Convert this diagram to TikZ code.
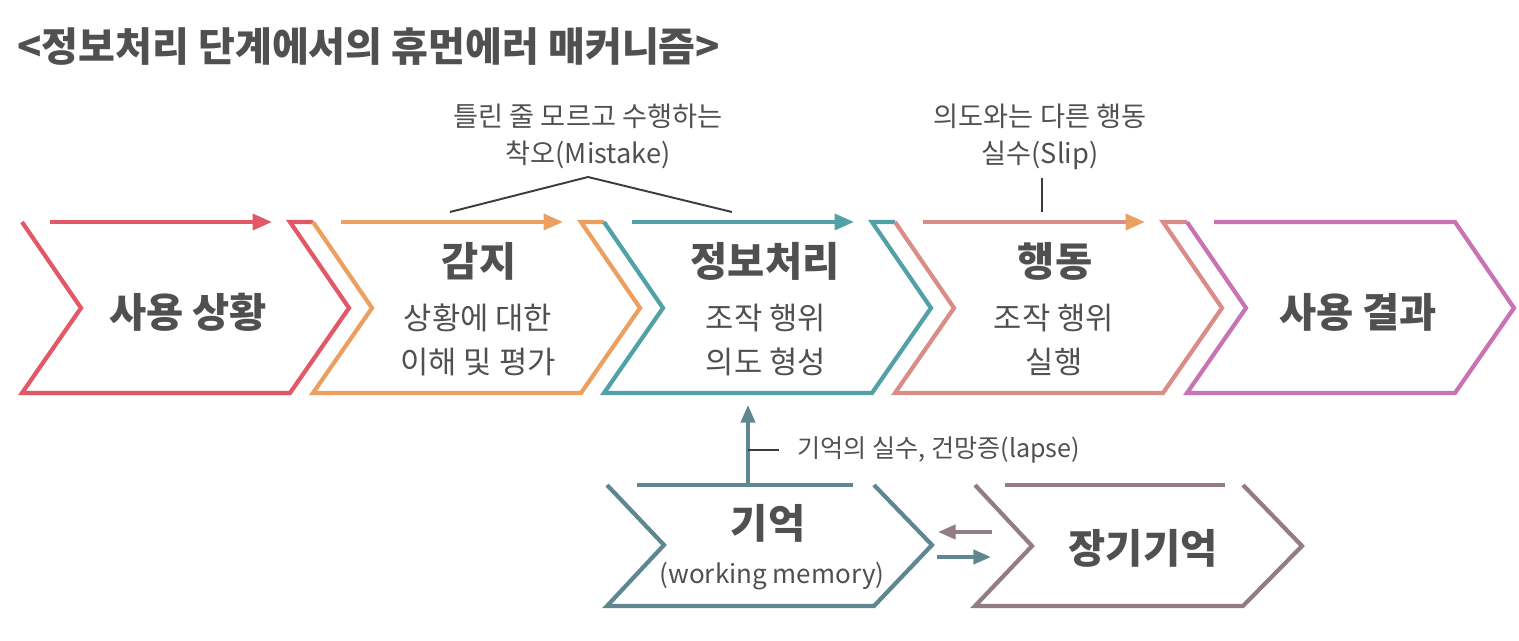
\documentclass[tikz,border=0pt]{standalone}
\usepackage{fontspec}
\setmainfont{Noto Sans CJK KR}
\usepackage{tikz}
\usetikzlibrary{arrows.meta, positioning}
\definecolor{cred}{RGB}{226,88,102}
\definecolor{corange}{RGB}{236,160,95}
\definecolor{cteal}{RGB}{82,160,168}
\definecolor{crose}{RGB}{218,140,135}
\definecolor{cpurple}{RGB}{200,115,180}
\definecolor{cmem}{RGB}{95,135,145}
\definecolor{clong}{RGB}{145,125,130}
\definecolor{ctext}{RGB}{80,80,80}
\definecolor{cline}{RGB}{60,60,60}
\tikzset{
  chev/.style={line width=2.4pt, line join=miter},
  toparrow/.style={line width=2.2pt, -{Triangle[length=11pt, width=9pt]}},
  memarrow/.style={line width=2.2pt, -{Triangle[length=10pt, width=8pt]}},
  titlelabel/.style={font=\fontsize{22.8}{26}\selectfont\bfseries, text=ctext, inner sep=0pt},
  headlabel/.style={font=\fontsize{23}{26}\selectfont\bfseries, text=ctext, inner sep=0pt},
  sublabel/.style={font=\fontsize{17.5}{25}\selectfont, text=ctext, align=center, inner sep=0pt},
  notelabel/.style={font=\fontsize{15.5}{21}\selectfont, text=ctext, align=center, inner sep=0pt},
  noteline/.style={line width=1.1pt, color=cline}
}
\begin{document}
\begin{tikzpicture}[x=0.02cm, y=-0.02cm]
  \useasboundingbox (0,0) rectangle (1519,641);

  % title
  \node[titlelabel, anchor=west] (title) at (17,47) {<정보처리 단계에서의 휴먼에러 매커니즘>};

  % process chevrons
  \draw[chev, cred] (22,222) -- (81,308) -- (22,393) -- (290,393) -- (349,308) -- (290,222) -- (313,222);
  \draw[toparrow, cred] (50,222) -- (272,222);
  \draw[chev, corange] (313,222) -- (372,308) -- (313,393) -- (581,393) -- (640,308) -- (581,222) -- (604,222);
  \draw[toparrow, corange] (341,222) -- (563,222);
  \draw[chev, cteal] (604,222) -- (663,308) -- (604,393) -- (872,393) -- (931,308) -- (872,222) -- (895,222);
  \draw[toparrow, cteal] (632,222) -- (854,222);
  \draw[chev, crose] (895,222) -- (954,308) -- (895,393) -- (1163,393) -- (1222,308) -- (1163,222) -- (1187,222);
  \draw[line width=2.2pt, crose, -{Triangle[length=11pt, width=9pt, color=corange]}] (923,222) -- (1145,222);
  \draw[chev, cpurple] (1187,222) -- (1246,308) -- (1187,393) -- (1455,393) -- (1514,308) -- (1455,222) -- (1214,222);

  \node[headlabel] (situ) at (188,312) {사용 상황};
  \node[headlabel] (sense) at (479,261) {감지};
  \node[sublabel] (sensetxt) at (478,340) {상황에 대한\\이해 및 평가};
  \node[headlabel] (info) at (765,261) {정보처리};
  \node[sublabel] (infotxt) at (766,340) {조작 행위\\의도 형성};
  \node[headlabel] (act) at (1055,261) {행동};
  \node[sublabel] (acttxt) at (1054,340) {조작 행위\\실행};
  \node[headlabel] (result) at (1358,312) {사용 결과};

  % error notes
  \node[notelabel] (mistake) at (588,136) {틀린 줄 모르고 수행하는\\착오(Mistake)};
  \coordinate (mkL) at (450,212);
  \coordinate (mkT) at (588,177);
  \coordinate (mkR) at (732,212);
  \draw[noteline] (mkL) -- (mkT) -- (mkR);
  \node[notelabel] (slip) at (1040,137) {의도와는 다른 행동\\실수(Slip)};
  \coordinate (slT) at (1042,178);
  \coordinate (slB) at (1042,212);
  \draw[noteline] (slT) -- (slB);

  % memory chevrons
  \draw[chev, cmem] (607,485) -- (664,545) -- (607,606) -- (874,606) -- (932,545) -- (874,485);
  \draw[chev, cmem] (637,485) -- (853,485);
  \draw[chev, clong] (975,485) -- (1032,546) -- (975,606) -- (1243,606) -- (1302,546) -- (1243,485);
  \draw[chev, clong] (1005,485) -- (1225,485);

  \node[headlabel] (mem) at (768,523) {기억};
  \node[sublabel, font=\fontsize{14.8}{18}\selectfont] (memtxt) at (772,576) {(working memory)};
  \node[headlabel] (longmem) at (1143,548) {장기기억};

  \coordinate (memtop) at (748,485);
  \coordinate (infobot) at (748,405);
  \draw[memarrow, cmem] (memtop) -- (infobot);
  \node[notelabel, font=\fontsize{14.3}{18}\selectfont, anchor=west] (lapse) at (797,450) {기억의 실수, 건망증(lapse)};
  \coordinate (lpL) at (748,450);
  \draw[noteline] (lpL) -- ([xshift=-10pt]lapse.west);

  \coordinate (bkS) at (992,532);
  \coordinate (bkE) at (938,532);
  \draw[memarrow, clong] (bkS) -- (bkE);
  \coordinate (fwS) at (937,557);
  \coordinate (fwE) at (991,557);
  \draw[memarrow, cmem] (fwS) -- (fwE);
\end{tikzpicture}
\end{document}
